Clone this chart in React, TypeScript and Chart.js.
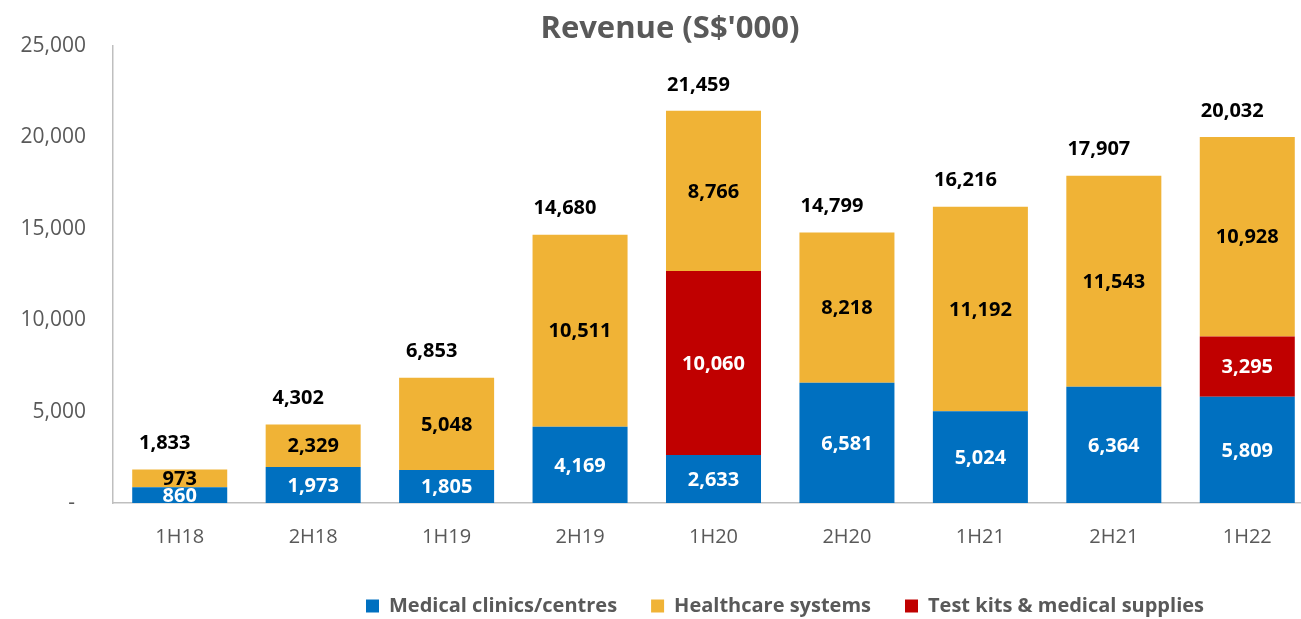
import React, { useEffect, useRef } from "react";
import { Chart, registerables } from "chart.js";

Chart.register(...registerables);

const categories = ["1H18", "2H18", "1H19", "2H19", "1H20", "2H20", "1H21", "2H21", "1H22"];
const medicalClinics = [860, 1973, 1805, 4169, 2633, 6581, 5024, 6364, 5809];
const testKits = [0, 0, 0, 0, 10060, 0, 0, 0, 3295];
const healthcareSystems = [973, 2329, 5048, 10511, 8766, 8218, 11192, 11543, 10928];
const yTicks = [0, 5000, 10000, 15000, 20000, 25000];
const legendOrder = ["Medical clinics/centres", "Healthcare systems", "Test kits & medical supplies"];

const FONT = '"Open Sans", "Noto Sans", sans-serif';
const GRAY = "#595959";
const CANVAS_W = 1340;
const CANVAS_H = 626;
const LEGEND_SHIFT = 128;
const TITLE_SHIFT = 13;

const fmt = (v: number) => v.toLocaleString("en-US");

const barLabels = {
  id: "barLabels",
  afterDatasetsDraw(chart: any) {
    const ctx = chart.ctx;
    ctx.save();
    ctx.font = `bold 20px ${FONT}`;
    ctx.textAlign = "center";
    ctx.textBaseline = "middle";
    const tops: number[] = [];
    const xs: number[] = [];
    chart.data.datasets.forEach((ds: any, di: number) => {
      const meta = chart.getDatasetMeta(di);
      meta.data.forEach((bar: any, i: number) => {
        const v = ds.data[i];
        const p = bar.getProps(["x", "y", "base"], true);
        xs[i] = p.x;
        if (!v) return;
        tops[i] = tops[i] === undefined ? p.y : Math.min(tops[i], p.y);
        ctx.fillStyle = ds.labelColor;
        ctx.fillText(fmt(v), p.x, (p.y + p.base) / 2 + 1);
      });
    });
    ctx.fillStyle = "#000";
    categories.forEach((_, i) => {
      const total = medicalClinics[i] + testKits[i] + healthcareSystems[i];
      ctx.fillText(fmt(total), xs[i] - 15, tops[i] - 26);
    });
    ctx.restore();
  },
};

const shiftBoxes = {
  id: "shiftBoxes",
  afterLayout(chart: any) {
    const l = chart.legend;
    if (l) {
      l.left += LEGEND_SHIFT;
      l.right += LEGEND_SHIFT;
    }
    const t = chart.titleBlock;
    if (t) {
      t.left += TITLE_SHIFT;
      t.right += TITLE_SHIFT;
    }
  },
};

export default function App() {
  const ref = useRef<HTMLCanvasElement>(null);

  useEffect(() => {
    if (!ref.current) return;
    const chart = new Chart(ref.current, {
      type: "bar",
      data: {
        labels: categories,
        datasets: [
          {
            label: "Medical clinics/centres",
            data: medicalClinics,
            backgroundColor: "#0070C0",
            borderWidth: 0,
            labelColor: "#FFFFFF",
          } as any,
          {
            label: "Test kits & medical supplies",
            data: testKits,
            backgroundColor: "#C00000",
            borderWidth: 0,
            labelColor: "#FFFFFF",
          } as any,
          {
            label: "Healthcare systems",
            data: healthcareSystems,
            backgroundColor: "#F0B336",
            borderWidth: 0,
            labelColor: "#000000",
          } as any,
        ],
      },
      options: {
        responsive: false,
        animation: false,
        events: [],
        layout: { padding: { left: 0, right: 26, top: 0, bottom: 0 } },
        datasets: { bar: { barPercentage: 0.712, categoryPercentage: 1 } },
        plugins: {
          title: {
            display: true,
            text: "Revenue (S$'000)",
            color: GRAY,
            font: { family: FONT, size: 31, weight: "bold", lineHeight: 1.1 },
            padding: { top: 12, bottom: 0 },
          },
          legend: {
            position: "bottom",
            labels: {
              color: GRAY,
              font: { family: FONT, size: 20, weight: "bold" },
              boxWidth: 13,
              boxHeight: 13,
              padding: 34,
              sort: (a: any, b: any) => legendOrder.indexOf(a.text) - legendOrder.indexOf(b.text),
            },
          },
          tooltip: { enabled: false },
        },
        scales: {
          x: {
            stacked: true,
            grid: { display: false, drawTicks: false },
            border: { display: true, color: "#BFBFBF", width: 1.5 },
            ticks: {
              color: GRAY,
              font: { family: FONT, size: 20 },
              padding: 22,
              maxRotation: 0,
            },
            afterFit: (s: any) => {
              s.height = 59;
            },
          },
          y: {
            stacked: true,
            min: yTicks[0],
            max: yTicks[yTicks.length - 1],
            grid: { display: false, drawTicks: false },
            border: { display: true, color: "#BFBFBF", width: 1.5 },
            afterBuildTicks: (s: any) => {
              s.ticks = yTicks.map((v) => ({ value: v }));
            },
            ticks: {
              color: GRAY,
              font: { family: FONT, size: 21 },
              padding: 27,
              callback: (v: any) => (Number(v) === 0 ? "-  " : fmt(Number(v))),
            },
            afterFit: (s: any) => {
              s.width = 113;
            },
          },
        },
      } as any,
      plugins: [barLabels, shiftBoxes],
    });
    return () => chart.destroy();
  }, []);

  return (
    <div
      style={{
        position: "fixed",
        left: 0,
        top: 0,
        width: 1301,
        height: 619,
        overflow: "hidden",
        background: "#fff",
      }}
    >
      <canvas
        ref={ref}
        width={CANVAS_W}
        height={CANVAS_H}
        style={{ position: "absolute", left: 0, top: 0, width: CANVAS_W, height: CANVAS_H }}
      />
    </div>
  );
}
